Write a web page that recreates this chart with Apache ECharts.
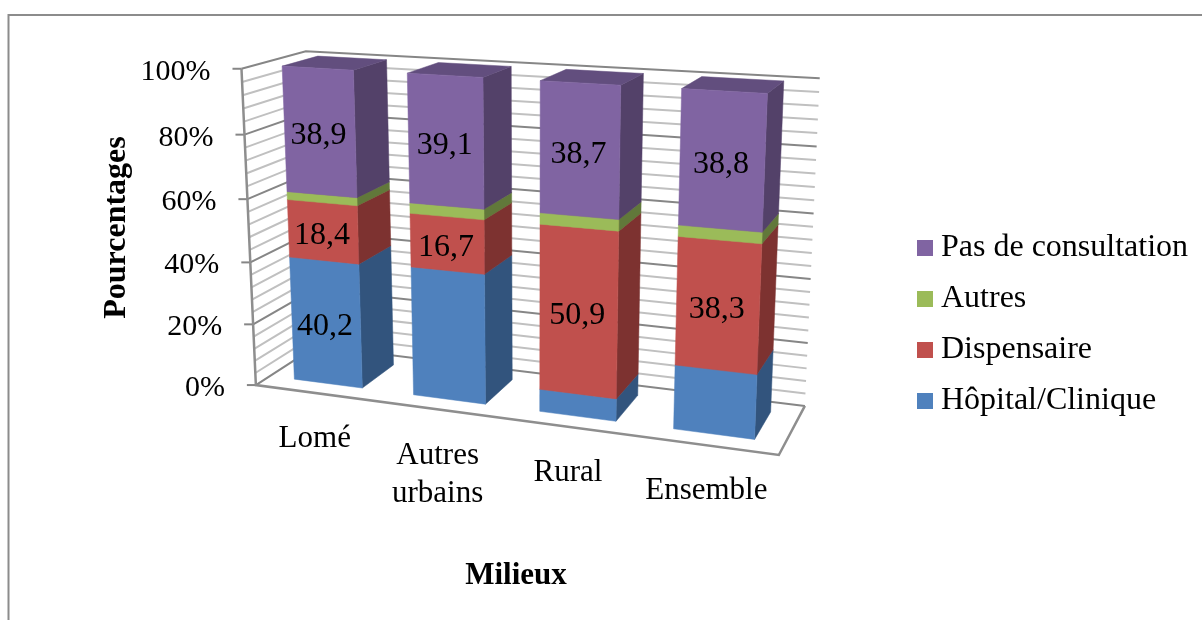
<!DOCTYPE html>
<html><head><meta charset="utf-8">
<style>html,body{margin:0;padding:0;background:#fff}#chart{width:1202px;height:620px}</style>
<script src="https://cdn.jsdelivr.net/npm/echarts@6/dist/echarts.min.js"></script>
</head><body><div id="chart"></div>
<script>
// ---- data ----
const categories = ['Lomé', 'Autres\nurbains', 'Rural', 'Ensemble'];
const hopital     = [40.2, 41.0, 7.0, 19.6];
const dispensaire = [18.4, 16.7, 50.9, 38.3];
const autres      = [2.5, 3.2, 3.4, 3.3];
const pasConsult  = [38.9, 39.1, 38.7, 38.8];
const hopitalLabelShown     = [true, false, false, false];
const dispensaireLabelShown = [true, true, true, true];
const autresLabelShown      = [false, false, false, false];
const pasConsultLabelShown  = [true, true, true, true];
const majorTicks = [0, 20, 40, 60, 80, 100];
const minorTicks = [4, 8, 12, 16, 24, 28, 32, 36, 44, 48, 52, 56, 64, 68, 72, 76, 84, 88, 92, 96];
const tickLabels = ['0%', '20%', '40%', '60%', '80%', '100%'];
const legendOrder = ['Pas de consultation', 'Autres', 'Dispensaire', 'Hôpital/Clinique'];

// ---- perspective of the 3-D box (u along categories, v along values, w in depth) ----
const PX = [435.59, -26.39, 84.44, 255.88];
const PY = [18.85, -319.72, -12.63, 385.07];
const PD = [-0.11219, -0.04965, 0.07619, 1];
function project(u, v, w) {
  const d = PD[0] * u + PD[1] * v + PD[2] * w + PD[3];
  return [(PX[0] * u + PX[1] * v + PX[2] * w + PX[3]) / d,
          (PY[0] * u + PY[1] * v + PY[2] * w + PY[3]) / d];
}
const BAR_SHARE = 0.577, DEPTH_FRONT = 0.221, DEPTH_BACK = 0.79;
const FONT = '"Liberation Serif", "Times New Roman", serif';

function toUnit(params, pt) {
  const g = params.coordSys;
  return [(pt[0] - g.x) / g.width, (g.y + g.height - pt[1]) / g.height];
}
const poly = (pts, fill) => ({ type: 'polygon', shape: { points: pts }, style: { fill: fill, stroke: fill, lineWidth: 0.5 } });
const wallLine = (pts, color, lw) => ({ type: 'polyline', shape: { points: pts }, style: { stroke: color, lineWidth: lw, fill: null } });

// ---- stacked segment: front, right side, top ----
function barSeries(name, values, starts, shown, front, side, top) {
  return {
    name, type: 'custom', coordinateSystem: 'cartesian2d', z: 3,
    itemStyle: { color: front },
    encode: { x: 0, y: [1, 2] },
    data: values.map((v, i) => [i, starts[i], starts[i] + v, v, shown[i] ? 1 : 0]),
    renderItem(params, api) {
      const i = api.value(0);
      const a = toUnit(params, api.coord([i, api.value(1)]));
      const b = toUnit(params, api.coord([i, api.value(2)]));
      const hw = api.size([1, 0])[0] * BAR_SHARE / 2 / params.coordSys.width;
      const l = a[0] - hw, r = a[0] + hw, v0 = a[1], v1 = b[1];
      const F = DEPTH_FRONT, B = DEPTH_BACK;
      const children = [
        poly([project(r, v0, F), project(r, v0, B), project(r, v1, B), project(r, v1, F)], side),
        poly([project(l, v1, F), project(r, v1, F), project(r, v1, B), project(l, v1, B)], top),
        poly([project(l, v0, F), project(r, v0, F), project(r, v1, F), project(l, v1, F)], front)
      ];
      if (api.value(4)) {
        const c = project(a[0], (v0 + v1) / 2, F);
        children.push({ type: 'text', z2: 10, style: {
          x: c[0] - 1, y: c[1] + 4, text: String(api.value(3)).replace('.', ','),
          font: '32px ' + FONT, fill: '#000', align: 'center', verticalAlign: 'middle' } });
      }
      return { type: 'group', children };
    }
  };
}
function cumulative(...rows) {
  return rows[0].map((_, i) => rows.reduce((s, row) => s + row[i], 0));
}

const zeros = categories.map(() => 0);
const option = {
  animation: false,
  backgroundColor: '#fff',
  textStyle: { fontFamily: FONT },
  grid: { left: 238, top: 70, width: 556, height: 315, containLabel: false },
  xAxis: {
    type: 'category', data: categories,
    axisLine: { show: false }, axisTick: { show: false }, axisLabel: { show: false }, splitLine: { show: false },
    name: 'Milieux', nameLocation: 'middle', nameGap: 175,
    nameTextStyle: { fontFamily: FONT, fontSize: 31, fontWeight: 'bold', color: '#000' }
  },
  yAxis: {
    type: 'value', min: 0, max: 100, interval: 20,
    axisLine: { show: false }, axisTick: { show: false }, axisLabel: { show: false }, splitLine: { show: false },
    name: 'Pourcentages', nameLocation: 'middle', nameGap: 105, nameRotate: 90,
    nameTextStyle: { fontFamily: FONT, fontSize: 32, fontWeight: 'bold', color: '#000' }
  },
  legend: {
    data: legendOrder, orient: 'vertical', left: 912, top: 227,
    icon: 'rect', itemWidth: 16, itemHeight: 16, itemGap: 19,
    selectedMode: false,
    textStyle: { fontFamily: FONT, fontSize: 32, color: '#000', padding: [0, 0, 0, 3] }
  },
  graphic: [
    { type: 'polyline', silent: true, shape: { points: [[8.5, 620], [8.5, 15], [1202, 15]] },
      style: { stroke: '#8c8c8c', lineWidth: 2, fill: null } }
  ],
  series: [
    { // walls, floor and gridlines
      type: 'custom', coordinateSystem: 'cartesian2d', z: 1, silent: true,
      data: minorTicks.map(t => [0, t, 0]).concat(majorTicks.map(t => [0, t, 1])),
      encode: { x: 0, y: 1 },
      renderItem(params, api) {
        const v = toUnit(params, api.coord([0, api.value(1)]))[1];
        const major = api.value(2) === 1;
        const color = major ? '#868686' : '#c0c0c0';
        const left = project(0, v, 0);
        const kids = [wallLine([left, project(0, v, 1), project(1, v, 1)], color, 2)];
        if (major) kids.push(wallLine([[left[0] - 9, left[1]], left], '#868686', 2));
        return { type: 'group', children: kids };
      }
    },
    { // floor outline and front-left upright
      type: 'custom', coordinateSystem: 'cartesian2d', z: 2, silent: true,
      data: [[0, 0]], encode: { x: 0, y: 1 },
      renderItem() {
        return { type: 'group', children: [
          wallLine([project(0, 1, 0), project(0, 0, 0), project(1, 0, 0), project(1, 0, 1)], '#8e8e8e', 2.5)
        ] };
      }
    },
    barSeries('Hôpital/Clinique', hopital, zeros, hopitalLabelShown, '#4f81bd', '#32547d', '#3f6797'),
    barSeries('Dispensaire', dispensaire, hopital, dispensaireLabelShown, '#c0504d', '#7d3230', '#99403e'),
    barSeries('Autres', autres, cumulative(hopital, dispensaire), autresLabelShown, '#9bbb59', '#61783a', '#7c9647'),
    barSeries('Pas de consultation', pasConsult, cumulative(hopital, dispensaire, autres), pasConsultLabelShown, '#8064a2', '#534169', '#624e7e'),
    { // value-axis tick labels, following the slanted axis
      type: 'custom', coordinateSystem: 'cartesian2d', z: 4, silent: true,
      data: majorTicks.map((t, i) => [0, t, i]), encode: { x: 0, y: 1 },
      renderItem(params, api) {
        const v = toUnit(params, api.coord([0, api.value(1)]))[1];
        const p = project(0, v, 0);
        return { type: 'text', style: { x: p[0] - 31, y: p[1] + 3, text: tickLabels[api.value(2)],
          font: '30px ' + FONT, fill: '#000', align: 'right', verticalAlign: 'middle' } };
      }
    },
    { // category labels, following the slanted floor edge
      type: 'custom', coordinateSystem: 'cartesian2d', z: 4, silent: true,
      data: categories.map((c, i) => [i, 0]), encode: { x: 0, y: 1 },
      renderItem(params, api) {
        const a = toUnit(params, api.coord([api.value(0), 0]));
        const p = project(a[0], 0, 0);
        return { type: 'text', style: { x: p[0], y: p[1] + 27, text: categories[api.value(0)],
          font: '31px ' + FONT, lineHeight: 38, fill: '#000', align: 'center', verticalAlign: 'top' } };
      }
    }
  ]
};
echarts.init(document.getElementById('chart'), null, { renderer: 'canvas' }).setOption(option);
</script></body></html>
